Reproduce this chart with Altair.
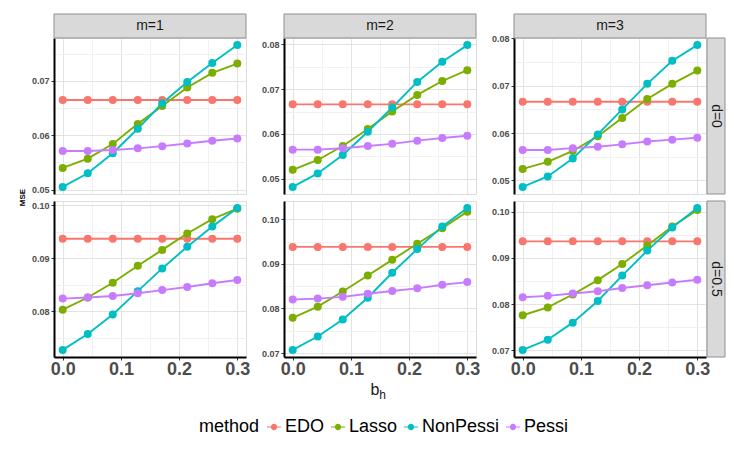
import altair as alt
import pandas as pd

FONT = "Liberation Sans"

x_vals = [0.0, 0.043, 0.086, 0.129, 0.171, 0.214, 0.257, 0.3]
methods = ["EDO", "Lasso", "NonPessi", "Pessi"]
colors = ["#F8766D", "#7CAE00", "#00BFC4", "#C77CFF"]
col_labels = ["m=1", "m=2", "m=3"]
row_labels = ["d=0", "d=0.5"]

# ---- values, d=0 ----
m1_d0 = {
    "EDO": [0.0665, 0.0665, 0.0665, 0.0665, 0.0665, 0.0665, 0.0665, 0.0665],
    "Lasso": [0.0540, 0.0557, 0.0584, 0.0621, 0.0654, 0.0688, 0.0715, 0.0732],
    "NonPessi": [0.0505, 0.0530, 0.0567, 0.0612, 0.0659, 0.0698, 0.0733, 0.0766],
    "Pessi": [0.0571, 0.0571, 0.0573, 0.0576, 0.0580, 0.0585, 0.0590, 0.0594],
}
m2_d0 = {
    "EDO": [0.0666, 0.0666, 0.0666, 0.0666, 0.0666, 0.0666, 0.0666, 0.0666],
    "Lasso": [0.0520, 0.0542, 0.0573, 0.0611, 0.0650, 0.0687, 0.0718, 0.0742],
    "NonPessi": [0.0482, 0.0512, 0.0553, 0.0605, 0.0659, 0.0716, 0.0761, 0.0798],
    "Pessi": [0.0565, 0.0565, 0.0568, 0.0573, 0.0578, 0.0585, 0.0591, 0.0596],
}
m3_d0 = {
    "EDO": [0.0666, 0.0666, 0.0666, 0.0666, 0.0666, 0.0666, 0.0666, 0.0666],
    "Lasso": [0.0524, 0.0539, 0.0562, 0.0593, 0.0632, 0.0672, 0.0704, 0.0732],
    "NonPessi": [0.0486, 0.0508, 0.0546, 0.0597, 0.0650, 0.0704, 0.0753, 0.0786],
    "Pessi": [0.0564, 0.0564, 0.0568, 0.0571, 0.0576, 0.0582, 0.0586, 0.0590],
}
# ---- values, d=0.5 ----
m1_d05 = {
    "EDO": [0.0937, 0.0937, 0.0937, 0.0937, 0.0937, 0.0937, 0.0937, 0.0937],
    "Lasso": [0.0803, 0.0826, 0.0854, 0.0886, 0.0916, 0.0947, 0.0974, 0.0994],
    "NonPessi": [0.0727, 0.0757, 0.0794, 0.0838, 0.0881, 0.0922, 0.0960, 0.0995],
    "Pessi": [0.0824, 0.0826, 0.0829, 0.0834, 0.0840, 0.0846, 0.0853, 0.0859],
}
m2_d05 = {
    "EDO": [0.0938, 0.0938, 0.0938, 0.0938, 0.0938, 0.0938, 0.0938, 0.0938],
    "Lasso": [0.0779, 0.0804, 0.0838, 0.0874, 0.0909, 0.0945, 0.0980, 0.1017],
    "NonPessi": [0.0707, 0.0737, 0.0775, 0.0824, 0.0880, 0.0933, 0.0984, 0.1025],
    "Pessi": [0.0820, 0.0822, 0.0826, 0.0833, 0.0839, 0.0845, 0.0853, 0.0859],
}
m3_d05 = {
    "EDO": [0.0936, 0.0936, 0.0936, 0.0936, 0.0936, 0.0936, 0.0936, 0.0936],
    "Lasso": [0.0776, 0.0793, 0.0821, 0.0852, 0.0887, 0.0927, 0.0968, 0.1004],
    "NonPessi": [0.0701, 0.0723, 0.0760, 0.0807, 0.0862, 0.0916, 0.0966, 0.1008],
    "Pessi": [0.0815, 0.0818, 0.0823, 0.0828, 0.0835, 0.0841, 0.0847, 0.0853],
}

# axis ticks (major + minor grid positions)
x_ticks = [0.0, 0.05, 0.1, 0.15, 0.2, 0.25, 0.3]
yticks_d0_m1 = [0.05, 0.055, 0.06, 0.065, 0.07, 0.075]
yticks_d0 = [0.05, 0.055, 0.06, 0.065, 0.07, 0.075, 0.08]
yticks_d05_m1 = [0.075, 0.08, 0.085, 0.09, 0.095, 0.10]
yticks_d05 = [0.07, 0.075, 0.08, 0.085, 0.09, 0.095, 0.10]

W, H = 192, 156
GRID = "#e3e3e3"
MINOR = "#f1f1f1"
STRIP_FILL = "#d9d9d9"
STRIP_STROKE = "#8f8f8f"
X_MINOR = "abs(round(datum.value*10) - datum.value*10) > 0.01"
Y_MINOR = "abs(round(datum.value*100) - datum.value*100) > 0.01"

legend_symbol = ("M-1,-0.08 L1,-0.08 L1,0.08 L-1,0.08 Z "
                 "M0.45,0 A0.45,0.45 0 1,1 -0.45,0 A0.45,0.45 0 1,1 0.45,0 Z")


def panel(vals, yticks, r, c):
    rows = []
    for m in methods:
        for xv, yv in zip(x_vals, vals[m]):
            rows.append({"x": xv, "y": yv, "method": m})
    df = pd.DataFrame(rows)
    bottom = r == 1
    xscale = alt.Scale(nice=False, zero=False, padding=8.7)
    yscale = alt.Scale(nice=False, zero=False, padding=7.1)
    xgrid = {"condition": {"test": X_MINOR, "value": MINOR}, "value": GRID}
    ygrid = {"condition": {"test": Y_MINOR, "value": MINOR}, "value": GRID}
    if bottom:
        xaxis = alt.Axis(values=x_ticks, title=None, grid=True, gridColor=xgrid,
                         domain=True, domainColor="black", domainWidth=2,
                         ticks=True,
                         tickColor={"condition": {"test": X_MINOR, "value": "rgba(0,0,0,0)"},
                                    "value": "#333333"},
                         tickSize=3, labelPadding=0, labelFont=FONT, labelFontSize=18,
                         labelFontWeight="bold", labelColor="#4d4d4d", labelFlush=False,
                         labelOverlap=False,
                         labelExpr=f"({X_MINOR}) ? '' : format(datum.value, '.1f')")
    else:
        xaxis = alt.Axis(values=x_ticks, title=None, grid=True, gridColor=xgrid,
                         domain=False, ticks=False, labels=False)
    yaxis = alt.Axis(values=yticks, title=None, grid=True, gridColor=ygrid,
                     domain=True, domainColor="black", domainWidth=2,
                     ticks=True,
                     tickColor={"condition": {"test": Y_MINOR, "value": "rgba(0,0,0,0)"},
                                "value": "#333333"},
                     tickSize=3, labelPadding=2, labelFont=FONT, labelFontSize=9,
                     labelFontWeight="bold", labelColor="#4d4d4d", labelFlush=False,
                     labelOverlap=False,
                     labelExpr=f"({Y_MINOR}) ? '' : format(datum.value, '.2f')")
    base = alt.Chart(df).encode(
        x=alt.X("x:Q", scale=xscale, axis=xaxis),
        y=alt.Y("y:Q", scale=yscale, axis=yaxis),
    )
    layers = []
    for m, col in zip(methods, colors):
        layers.append(base.transform_filter(alt.datum.method == m)
                      .mark_line(strokeWidth=1.9, color=col))
    layers.append(base.mark_point(filled=True, size=64, opacity=1).encode(
        color=alt.Color("method:N", scale=alt.Scale(domain=methods, range=colors),
                        legend=alt.Legend(
                            title="method", orient="none", legendX=145, legendY=380,
                            direction="horizontal", titleOrient="left", titleFont=FONT,
                            titleFontSize=18, titleFontWeight="normal", titleColor="black",
                            titlePadding=5, labelFont=FONT, labelFontSize=18,
                            labelColor="black", labelOffset=2, columnPadding=4,
                            symbolType=legend_symbol, symbolSize=196,
                            symbolStrokeWidth=0)),
    ))
    if r == 0:
        sd = pd.DataFrame({"label": [col_labels[c]]})
        layers.append(alt.Chart(sd).mark_rect(fill=STRIP_FILL, stroke=STRIP_STROKE,
                                              strokeWidth=1).encode(
            x=alt.value(0), x2=alt.value(W), y=alt.value(-24), y2=alt.value(0)))
        layers.append(alt.Chart(sd).mark_text(font=FONT, fontSize=14, color="#1a1a1a").encode(
            x=alt.value(W / 2), y=alt.value(-12), text="label:N"))
    if c == 2:
        sd = pd.DataFrame({"label": [row_labels[r]]})
        layers.append(alt.Chart(sd).mark_rect(fill=STRIP_FILL, stroke=STRIP_STROKE,
                                              strokeWidth=1).encode(
            x=alt.value(W + 1), x2=alt.value(W + 19), y=alt.value(0), y2=alt.value(H)))
        layers.append(alt.Chart(sd).mark_text(font=FONT, fontSize=14, color="#1a1a1a",
                                              angle=90).encode(
            x=alt.value(W + 10), y=alt.value(H / 2), text="label:N"))
    if r == 0 and c == 0:
        layers.append(alt.Chart(pd.DataFrame({"t": ["MSE"]})).mark_text(
            font=FONT, fontSize=8, fontWeight="bold", color="black", angle=270).encode(
            x=alt.value(-31), y=alt.value(159.5), text="t:N"))
    if r == 1 and c == 1:
        layers.append(alt.Chart(pd.DataFrame({"t": ["b"]})).mark_text(
            font=FONT, fontSize=16, color="#1a1a1a", baseline="alphabetic").encode(
            x=alt.value(W / 2 - 5), y=alt.value(194), text="t:N"))
        layers.append(alt.Chart(pd.DataFrame({"t": ["h"]})).mark_text(
            font=FONT, fontSize=12, color="#1a1a1a", baseline="alphabetic").encode(
            x=alt.value(W / 2 + 2.5), y=alt.value(198), text="t:N"))
    return alt.layer(*layers).properties(width=W, height=H)


panels = [
    panel(m1_d0, yticks_d0_m1, 0, 0),
    panel(m2_d0, yticks_d0, 0, 1),
    panel(m3_d0, yticks_d0, 0, 2),
    panel(m1_d05, yticks_d05_m1, 1, 0),
    panel(m2_d05, yticks_d05, 1, 1),
    panel(m3_d05, yticks_d05, 1, 2),
]

chart = alt.concat(*panels, columns=3, spacing={"row": 7, "column": 38},
                   bounds="flush").resolve_scale(y="independent", x="independent").properties(
    padding={"left": 10, "top": 5, "right": 0, "bottom": 0}
).configure_view(stroke="#a6a6a6", strokeWidth=1).configure(font=FONT)

chart.save("out.html", embed_options={"renderer": "svg", "actions": False})
